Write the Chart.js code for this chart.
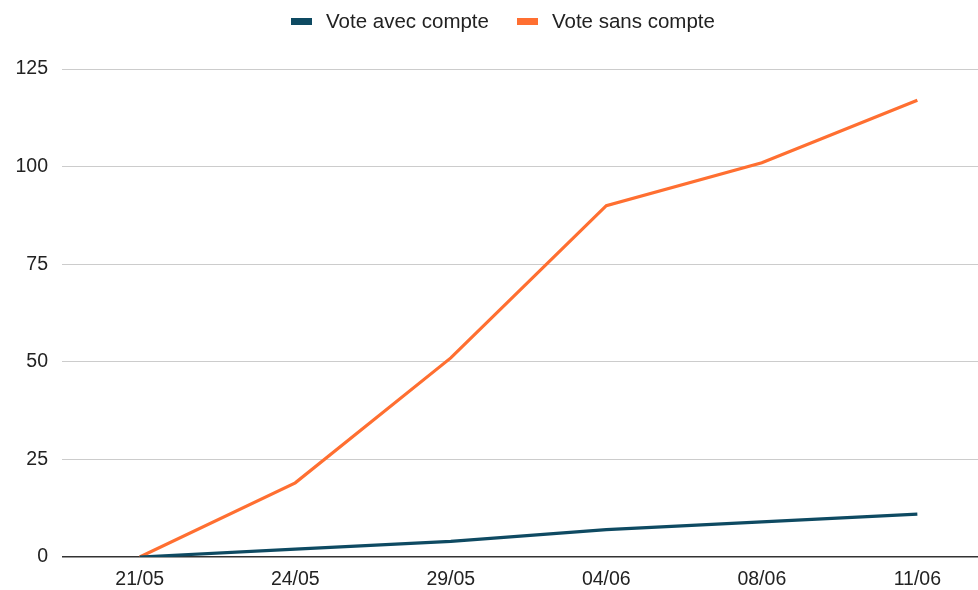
<!DOCTYPE html>
<html>
<head>
<meta charset="utf-8">
<script src="https://cdn.jsdelivr.net/npm/chart.js@4.4.0/dist/chart.umd.min.js"></script>
<style>
  html, body { margin: 0; padding: 0; background: #fff; }
  #box { width: 978px; height: 590px; position: relative; }
  #legende {
    position: absolute; top: 9px; left: 291px;
    display: flex; align-items: center;
    font-family: "Liberation Sans", Arial, sans-serif; font-size: 20.5px; color: #222;
  }
  .item { display: flex; align-items: center; margin-right: 28px; }
  .pastille { width: 21px; height: 7px; margin-right: 14px; }
</style>
</head>
<body>
<div id="box">
  <canvas id="graphique"></canvas>
  <div id="legende"></div>
</div>
<script>
// DONNÉES
const dates = ["21/05", "24/05", "29/05", "04/06", "08/06", "11/06"];
const voteAvecCompte = [0, 2, 4, 7, 9, 11];
const voteSansCompte = [0, 19, 51, 90, 101, 117];
const graduationsY = [0, 25, 50, 75, 100, 125];

const series = [
  { nom: "Vote avec compte", valeurs: voteAvecCompte, couleur: "#0e4a62" },
  { nom: "Vote sans compte", valeurs: voteSansCompte, couleur: "#ff6f31" },
];

const toPoints = (valeurs) => valeurs.map((v, i) => ({ x: i, y: v }));
const police = { family: "'Liberation Sans', Arial", size: 19.5 };

// légende HTML
const legende = document.getElementById("legende");
series.forEach((s) => {
  legende.innerHTML += `<div class="item"><div class="pastille" style="background:${s.couleur}"></div>${s.nom}</div>`;
});

const ctx = document.getElementById("graphique");
new Chart(ctx, {
  type: "line",
  data: {
    datasets: series.map((s) => ({
      label: s.nom,
      data: toPoints(s.valeurs),
      borderColor: s.couleur,
      backgroundColor: s.couleur,
      borderWidth: 3.2,
      pointRadius: 0,
      tension: 0,
    })),
  },
  options: {
    responsive: true,
    maintainAspectRatio: false,
    animation: false,
    layout: { padding: { top: 69, right: 0, bottom: 0, left: 0 } },
    plugins: {
      legend: { display: false },
      tooltip: { enabled: false },
    },
    scales: {
      x: {
        type: "linear",
        min: -0.5,
        max: 5.39,
        afterBuildTicks: (axis) => {
          axis.ticks = dates.map((d, i) => ({ value: i }));
        },
        afterFit: (axis) => { axis.height = 33; },
        ticks: {
          callback: (v) => dates[v],
          font: police,
          color: "#222",
          padding: 11,
          maxRotation: 0,
        },
        grid: { display: false, drawTicks: false },
        border: { display: false },
      },
      y: {
        min: 0,
        max: 125,
        afterBuildTicks: (axis) => {
          axis.ticks = graduationsY.map((v) => ({ value: v }));
        },
        afterFit: (axis) => { axis.width = 62; },
        ticks: {
          font: police,
          color: "#222",
          padding: 14,
        },
        grid: {
          color: (c) => (c.tick && c.tick.value === 0 ? "#333" : "#ccc"),
          lineWidth: (c) => (c.tick && c.tick.value === 0 ? 1.5 : 1),
          drawTicks: false,
        },
        border: { display: false },
      },
    },
  },
});
</script>
</body>
</html>
